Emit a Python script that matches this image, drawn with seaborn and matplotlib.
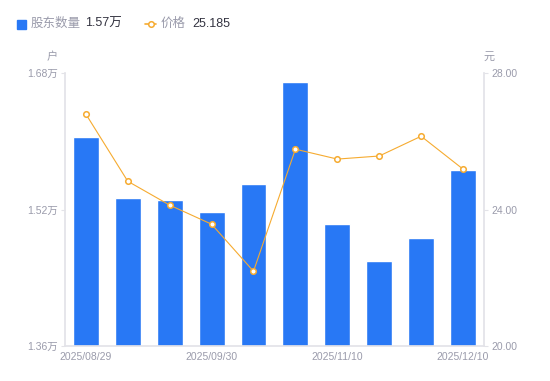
# Holder count (bars) vs price (line), twin axes
import matplotlib
matplotlib.use("Agg")
import matplotlib.pyplot as plt
from matplotlib.lines import Line2D
from matplotlib.patches import Rectangle
import seaborn as sns
import pandas as pd

# Data
periods = list(range(10))
tick_labels = ["2025/08/29", "", "", "2025/09/30", "", "", "2025/11/10", "", "", "2025/12/10"]
holders = [1.605, 1.534, 1.531, 1.517, 1.550, 1.6695, 1.503, 1.460, 1.487, 1.566]  # 万户
price = [26.80, 24.83, 24.13, 23.57, 22.19, 25.77, 25.48, 25.57, 26.15, 25.185]   # 元

blue = "#2878f5"
orange = "#f6ab30"
grey_text = "#9a9bab"
axis_grey = "#e3e3e8"

sns.set_theme(style="white")
plt.rcParams["font.family"] = ["Liberation Sans", "Noto Sans CJK SC", "DejaVu Sans"]

df = pd.DataFrame({"period": periods, "holders": holders, "price": price})

fig = plt.figure(figsize=(5.5, 3.81), dpi=100)
ax = fig.add_axes([0.118, 0.092, 0.762, 0.716])

sns.barplot(data=df, x="period", y="holders", color=blue, width=0.62,
            saturation=1, ax=ax)
ax.set_ylim(1.36, 1.68)
ax.set_xlim(-0.5, 9.5)
ax.set_yticks([1.36, 1.52, 1.68])
ax.set_yticklabels(["1.36万", "1.52万", "1.68万"])
ax.set_xticks(periods)
ax.set_xticklabels(tick_labels)
ax.set_xlabel("")
ax.set_ylabel("")

ax2 = ax.twinx()
sns.lineplot(data=df, x="period", y="price", color=orange, linewidth=0.8,
             marker="o", markersize=4, markerfacecolor="white",
             markeredgecolor=orange, markeredgewidth=1.1, ax=ax2)
ax2.set_ylim(20, 28)
ax2.set_yticks([20, 24, 28])
ax2.set_yticklabels(["20.00", "24.00", "28.00"])
ax2.set_xlim(-0.5, 9.5)
ax2.set_ylabel("")

for a in (ax, ax2):
    for s in a.spines.values():
        s.set_visible(False)
    a.tick_params(axis="both", colors=grey_text, labelsize=7.5, length=3,
                  width=0.8, color=axis_grey, pad=2)
    a.grid(False)
ax.spines["left"].set_visible(True)
ax.spines["left"].set_color(axis_grey)
ax.spines["bottom"].set_visible(True)
ax.spines["bottom"].set_color(axis_grey)
ax2.spines["right"].set_visible(True)
ax2.spines["right"].set_color(axis_grey)
ax.tick_params(axis="x", length=0, pad=4)
ax2.tick_params(axis="x", length=0)

# unit labels
fig.text(58 / 550, 1 - 57 / 381, "户", ha="right", va="center", fontsize=8, color=grey_text)
fig.text(484 / 550, 1 - 57 / 381, "元", ha="left", va="center", fontsize=8, color=grey_text)

# legend row
ly = 1 - 24 / 381
fig.add_artist(Rectangle((17 / 550, ly - 4.5 / 381), 9 / 550, 9 / 381,
                         transform=fig.transFigure, color=blue))
fig.text(31 / 550, ly, "股东数量", ha="left", va="center", fontsize=9, color=grey_text)
fig.text(85 / 550, ly, "1.57万", ha="left", va="center", fontsize=9, color="#333340")
fig.add_artist(Line2D([145 / 550, 156 / 550], [ly, ly], transform=fig.transFigure,
                      color=orange, linewidth=1.2))
fig.add_artist(Line2D([150.5 / 550], [ly], transform=fig.transFigure, marker="o",
                      markersize=4, markerfacecolor="white", markeredgecolor=orange,
                      markeredgewidth=1.1, linestyle=""))
fig.text(161 / 550, ly, "价格", ha="left", va="center", fontsize=9, color=grey_text)
fig.text(192 / 550, ly, "25.185", ha="left", va="center", fontsize=9, color="#333340")

fig.savefig("out.png", dpi=100)
